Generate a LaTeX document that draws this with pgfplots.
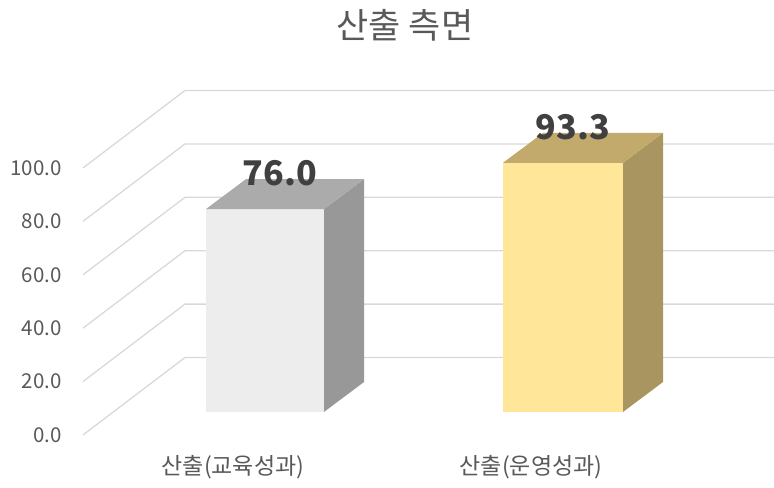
\documentclass[border=0pt]{standalone}
\usepackage{fontspec}
\setmainfont{Noto Sans CJK KR}
\usepackage{pgfplots}
\pgfplotsset{compat=1.18}
\definecolor{gridc}{HTML}{D9D9D9}
\definecolor{txt}{HTML}{595959}
\definecolor{lbl}{HTML}{404040}
\definecolor{gfront}{HTML}{EDEDED}
\definecolor{gtop}{HTML}{ABABAB}
\definecolor{gside}{HTML}{989898}
\definecolor{yfront}{HTML}{FFE699}
\definecolor{ytop}{HTML}{C2AA6C}
\definecolor{yside}{HTML}{A8955F}
\begin{document}
\begin{tikzpicture}
\begin{axis}[
  x=1pt, y=2.67pt,
  xmin=83, xmax=774, ymin=0, ymax=130,
  clip=false,
  axis line style={draw=none},
  major tick length=0pt,
  tick style={draw=none},
  /pgf/number format/assume math mode=true,
  ytick={0,20,40,60,80,100},
  yticklabel style={anchor=east, inner sep=0pt, xshift=-21pt, text=txt,
    font=\fontsize{20.5}{24}\selectfont,
    /pgf/number format/.cd, fixed, fixed zerofill, precision=1},
  xtick={233,531},
  xticklabels={산출(교육성과),산출(운영성과)},
  xticklabel style={anchor=center, inner sep=0pt, yshift=-32pt, text=txt,
    font=\fontsize{23}{27}\selectfont},
]
% gridlines (front-left diagonal, then back wall)
\addplot[gridc, line width=1.3pt] coordinates {(83,0) (185,29) (774,29)};
\addplot[gridc, line width=1.3pt] coordinates {(83,20) (185,49) (774,49)};
\addplot[gridc, line width=1.3pt] coordinates {(83,40) (185,69) (774,69)};
\addplot[gridc, line width=1.3pt] coordinates {(83,60) (185,89) (774,89)};
\addplot[gridc, line width=1.3pt] coordinates {(83,80) (185,109) (774,109)};
\addplot[gridc, line width=1.3pt] coordinates {(83,100) (185,129) (774,129)};
% bar 1: 76.0
\addplot[ybar, bar width=118, bar shift=0pt, fill=gfront, draw=none, yshift=23pt] coordinates {(265,76.0)};
\addplot[fill=gside, draw=none, yshift=23pt] coordinates {(324,0) (364,11.2) (364,87.2) (324,76.0)} -- cycle;
\addplot[fill=gtop, draw=none, yshift=23pt] coordinates {(206,76.0) (324,76.0) (364,87.2) (246,87.2)} -- cycle;
% bar 2: 93.3
\addplot[ybar, bar width=120, bar shift=0pt, fill=yfront, draw=none, yshift=23pt] coordinates {(563,93.3)};
\addplot[fill=yside, draw=none, yshift=23pt] coordinates {(623,0) (663,11.2) (663,104.5) (623,93.3)} -- cycle;
\addplot[fill=ytop, draw=none, yshift=23pt] coordinates {(503,93.3) (623,93.3) (663,104.5) (543,104.5)} -- cycle;
% data labels
\addplot[draw=none, mark=none,
  nodes near coords={\pgfmathprintnumber[fixed,fixed zerofill,precision=1]{\pgfplotspointmeta}},
  nodes near coords style={anchor=center, yshift=58.7pt, text=lbl,
    font=\fontsize{34}{38}\selectfont\bfseries}]
  coordinates {(280,76.0) (573,93.3)};
% title
\node[text=txt, font=\fontsize{35}{40}\selectfont] at (axis cs:405,153.6) {산출 측면};
\coordinate (bl) at (axis cs:0,-19.85);
\coordinate (tr) at (axis cs:774,162.9);
\end{axis}
\pgfresetboundingbox
\path[use as bounding box] (bl) rectangle (tr);
\end{tikzpicture}
\end{document}
